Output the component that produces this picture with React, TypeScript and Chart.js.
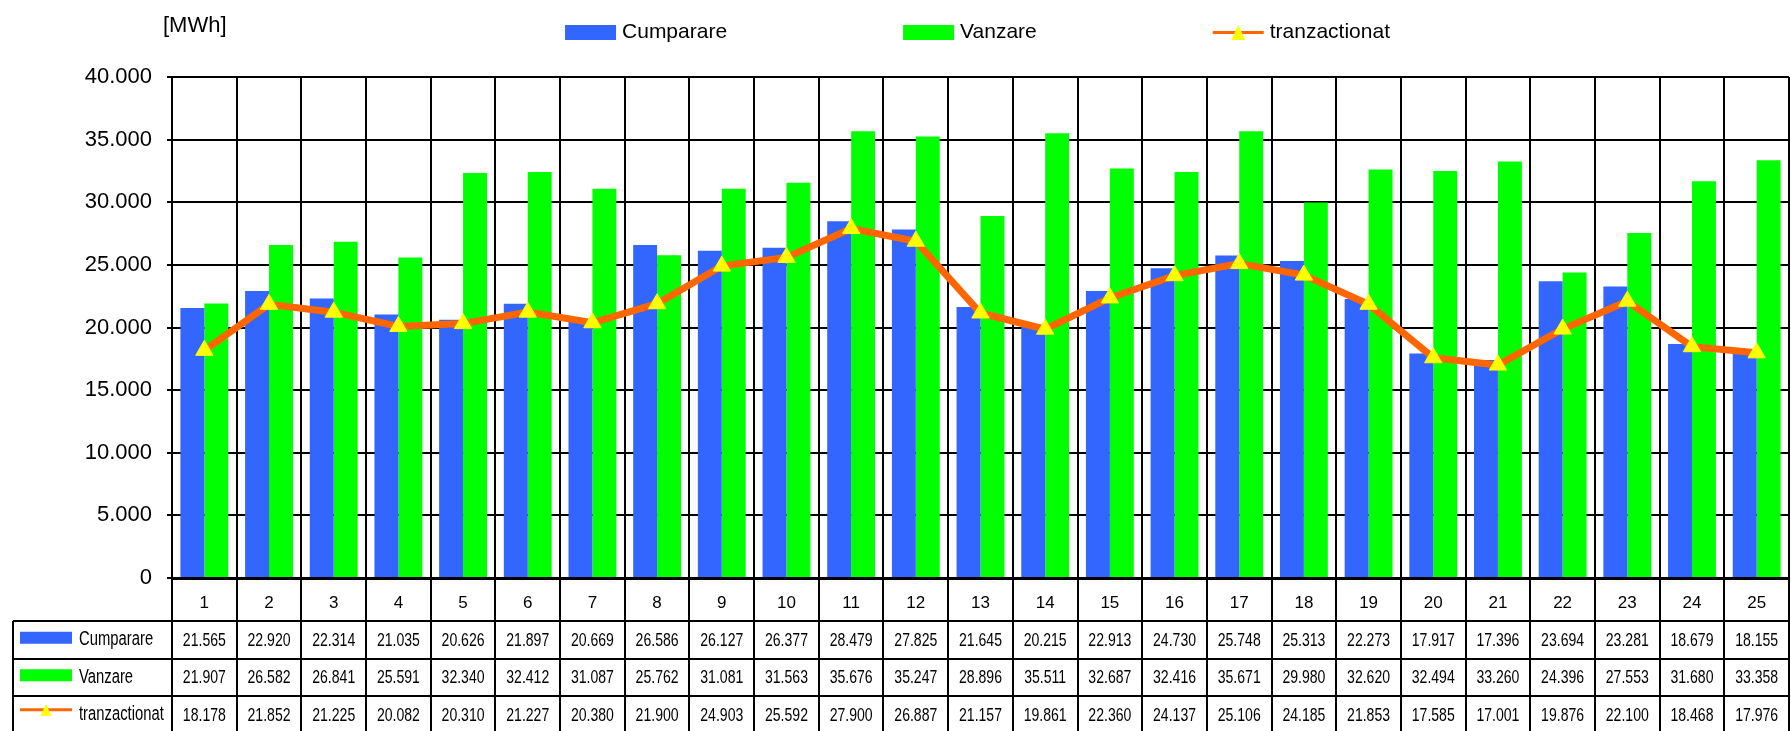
import React, { useEffect, useRef } from 'react';
import { Chart, registerables } from 'chart.js';

Chart.register(...registerables);

// ---------- data ----------
const categories = ['1', '2', '3', '4', '5', '6', '7', '8', '9', '10', '11', '12', '13', '14', '15', '16', '17', '18', '19', '20', '21', '22', '23', '24', '25'];
const cumparare = [21565, 22920, 22314, 21035, 20626, 21897, 20669, 26586, 26127, 26377, 28479, 27825, 21645, 20215, 22913, 24730, 25748, 25313, 22273, 17917, 17396, 23694, 23281, 18679, 18155];
const vanzare = [21907, 26582, 26841, 25591, 32340, 32412, 31087, 25762, 31081, 31563, 35676, 35247, 28896, 35511, 32687, 32416, 35671, 29980, 32620, 32494, 33260, 24396, 27553, 31680, 33358];
const tranzactionat = [18178, 21852, 21225, 20082, 20310, 21227, 20380, 21900, 24903, 25592, 27900, 26887, 21157, 19861, 22360, 24137, 25106, 24185, 21853, 17585, 17001, 19876, 22100, 18468, 17976];
const seriesNames = ['Cumparare', 'Vanzare', 'tranzactionat'];
const yTickValues = [0, 5000, 10000, 15000, 20000, 25000, 30000, 35000, 40000];
const yTickLabels = ['0', '5.000', '10.000', '15.000', '20.000', '25.000', '30.000', '35.000', '40.000'];
const unitLabel = '[MWh]';

// ---------- style ----------
const BLUE = '#3366FF';
const GREEN = '#00FF00';
const ORANGE = '#FF6600';
const YELLOW = '#FFFF00';
const FONT = '"Liberation Sans", Arial, sans-serif';

const fmt = (v: number) => {
  const s = String(v);
  return s.length > 3 ? s.slice(0, -3) + '.' + s.slice(-3) : s;
};

function drawTriangle(ctx: CanvasRenderingContext2D, cx: number, cy: number, w: number, h: number) {
  ctx.beginPath();
  ctx.moveTo(cx, cy - h / 2);
  ctx.lineTo(cx + w / 2, cy + h / 2);
  ctx.lineTo(cx - w / 2, cy + h / 2);
  ctx.closePath();
  ctx.fillStyle = YELLOW;
  ctx.fill();
}

function drawSwatch(ctx: CanvasRenderingContext2D, kind: number, x: number, cy: number, w: number, h: number, lw: number, triW: number, triH: number) {
  if (kind < 2) {
    ctx.fillStyle = kind === 0 ? BLUE : GREEN;
    ctx.fillRect(x, cy - h / 2, w, h);
  } else {
    ctx.strokeStyle = ORANGE;
    ctx.lineWidth = lw;
    ctx.beginPath();
    ctx.moveTo(x, cy);
    ctx.lineTo(x + w, cy);
    ctx.stroke();
    drawTriangle(ctx, x + w / 2, cy, triW, triH);
  }
}

function drawCondensed(ctx: CanvasRenderingContext2D, text: string, x: number, y: number, align: CanvasTextAlign, size: number, sx: number) {
  ctx.save();
  ctx.translate(x, y);
  ctx.scale(sx, 1);
  ctx.font = `${size}px ${FONT}`;
  ctx.textAlign = align;
  ctx.textBaseline = 'middle';
  ctx.fillStyle = '#000';
  ctx.fillText(text, 0, 0);
  ctx.restore();
}

const tablePlugin = {
  id: 'dataTableAndLegend',
  afterDraw(chart: any) {
    const ctx: CanvasRenderingContext2D = chart.ctx;
    const area = chart.chartArea;
    const xs = chart.scales.x;
    const n = categories.length;
    const c0 = xs.getPixelForTick(0);
    const cw = xs.getPixelForTick(1) - c0;
    const bx = (i: number) => c0 - cw / 2 + i * cw;
    const headerBottom = area.bottom + 43;
    const rowH = 37.5;
    const tableLeft = 13;
    const tableBottom = headerBottom + 3 * rowH + 2;

    ctx.save();
    ctx.strokeStyle = '#000';
    ctx.lineWidth = 2;
    ctx.beginPath();
    for (let i = 0; i <= n; i++) {
      const x = Math.round(bx(i));
      ctx.moveTo(x, area.bottom);
      ctx.lineTo(x, tableBottom);
    }
    for (let r = 0; r <= 3; r++) {
      const y = Math.round(headerBottom + r * rowH);
      ctx.moveTo(tableLeft, y);
      ctx.lineTo(bx(n), y);
    }
    ctx.moveTo(tableLeft, headerBottom);
    ctx.lineTo(tableLeft, tableBottom);
    ctx.stroke();

    const rows = [cumparare, vanzare, tranzactionat];
    rows.forEach((vals, r) => {
      const cy = headerBottom + rowH * (r + 0.5);
      drawSwatch(ctx, r, 20, r === 2 ? cy - 5 : cy - 2, 52, 12, 3, 11, 12);
      drawCondensed(ctx, seriesNames[r], 79, cy, 'left', 19.5, 0.76);
      vals.forEach((v, i) => drawCondensed(ctx, fmt(v), c0 + i * cw, cy + 1, 'center', 19, 0.74));
    });

    // top legend
    ctx.font = `21px ${FONT}`;
    const sw = 51, gapText = 6, gapItem = 176;
    const widths = seriesNames.map((s) => ctx.measureText(s).width);
    const total = widths.reduce((a, b) => a + b, 0) + 3 * (sw + gapText) + 2 * gapItem;
    let lx = (area.left + area.right) / 2 - 3 - total / 2;
    const ly = 32.5;
    seriesNames.forEach((name, k) => {
      drawSwatch(ctx, k, lx, ly, sw, 15, 3, 14, 15);
      ctx.font = `21px ${FONT}`;
      ctx.fillStyle = '#000';
      ctx.textAlign = 'left';
      ctx.textBaseline = 'middle';
      ctx.fillText(name, lx + sw + gapText, ly);
      lx += sw + gapText + widths[k] + gapItem;
    });

    // unit label
    ctx.font = `22px ${FONT}`;
    ctx.fillStyle = '#000';
    ctx.textAlign = 'left';
    ctx.textBaseline = 'middle';
    ctx.fillText(unitLabel, area.left - 9, 26);
    ctx.restore();
  },
};

export default function App() {
  const ref = useRef<HTMLCanvasElement | null>(null);

  useEffect(() => {
    if (!ref.current) return;
    const chart = new Chart(ref.current, {
      type: 'bar',
      data: {
        labels: categories,
        datasets: [
          {
            type: 'bar',
            label: seriesNames[0],
            data: cumparare,
            backgroundColor: BLUE,
            borderWidth: 0,
            categoryPercentage: 0.74,
            barPercentage: 1,
            order: 1,
            xAxisID: 'x',
            yAxisID: 'y',
          },
          {
            type: 'bar',
            label: seriesNames[1],
            data: vanzare,
            backgroundColor: GREEN,
            borderWidth: 0,
            categoryPercentage: 0.74,
            barPercentage: 1,
            order: 1,
            xAxisID: 'x',
            yAxisID: 'y',
          },
          {
            type: 'line',
            label: seriesNames[2],
            data: tranzactionat,
            borderColor: ORANGE,
            borderWidth: 7,
            tension: 0,
            pointStyle: 'triangle',
            pointRadius: 10,
            pointBackgroundColor: YELLOW,
            pointBorderColor: YELLOW,
            pointBorderWidth: 1,
            order: 0,
            xAxisID: 'x',
            yAxisID: 'y',
          },
        ],
      } as any,
      options: {
        responsive: false,
        animation: false,
        layout: { padding: { top: 77, right: 8, left: 0, bottom: 0 } },
        plugins: {
          legend: { display: false },
          tooltip: { enabled: false },
          title: { display: false },
        },
        scales: {
          x: {
            type: 'category',
            offset: true,
            grid: { color: '#000', lineWidth: 2, drawTicks: false, offset: true },
            border: { color: '#000', width: 3 },
            ticks: { color: '#000', font: { size: 17, family: FONT }, padding: 15, maxRotation: 0, autoSkip: false },
            afterFit: (s: any) => { s.height = 153; },
          },
          y: {
            min: 0,
            max: 40000,
            ticks: {
              stepSize: 5000,
              color: '#000',
              font: { size: 22, family: FONT },
              padding: 15,
              callback: (v: any) => {
                const idx = yTickValues.indexOf(Number(v));
                return idx >= 0 ? yTickLabels[idx] : '';
              },
            },
            grid: { color: '#000', lineWidth: 2, tickLength: 5 },
            border: { color: '#000', width: 2 },
            afterFit: (s: any) => { s.width = 172; },
          },
        },
      } as any,
      plugins: [tablePlugin],
    });
    return () => chart.destroy();
  }, []);

  return (
    <div style={{ position: 'absolute', left: 0, top: 0, width: 1791, height: 731, overflow: 'hidden', background: '#fff' }}>
      <canvas ref={ref} width={1800} height={731} style={{ display: 'block' }} />
    </div>
  );
}
